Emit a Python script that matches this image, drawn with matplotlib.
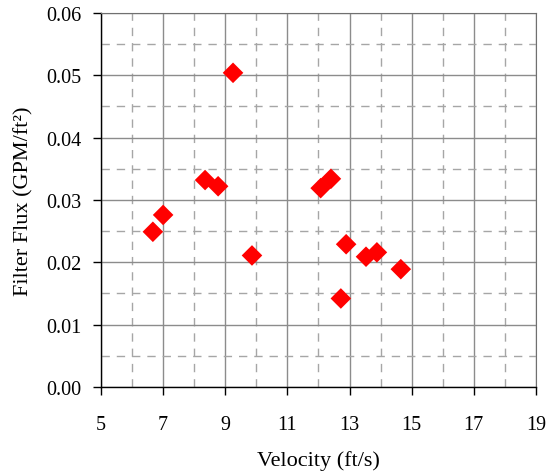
import matplotlib
matplotlib.use('Agg')
import matplotlib.pyplot as plt
from matplotlib.ticker import FixedLocator, MultipleLocator

plt.rcParams['font.family'] = ['Liberation Serif', 'DejaVu Serif']

# velocity vs. filter flux measurements
velocity = [6.67, 7.0, 8.35, 8.77, 9.25, 9.86, 12.07, 12.4, 12.89, 12.72, 13.53, 13.88, 14.65]
flux = [0.0249, 0.0276, 0.0332, 0.0322, 0.0504, 0.0211, 0.0319, 0.0334, 0.0229, 0.0142, 0.0209, 0.0216, 0.0189]
x_ticks = [5, 7, 9, 11, 13, 15, 17, 19]

fig = plt.figure(figsize=(5.5, 4.77), dpi=100)
ax = fig.add_axes([0.1836, 0.1866, 0.7909, 0.7841])

ax.set_xlim(5, 19)
ax.set_ylim(0, 0.06)
ax.xaxis.set_major_locator(FixedLocator(x_ticks))
ax.xaxis.set_minor_locator(FixedLocator([t + 1 for t in x_ticks[:-1]]))
ax.yaxis.set_major_locator(MultipleLocator(0.01))
ax.yaxis.set_minor_locator(MultipleLocator(0.005))
ax.yaxis.set_major_formatter(plt.FormatStrFormatter('%.2f'))

ax.grid(which='major', color='#8c8c8c', linewidth=1.0, linestyle='-')
ax.grid(which='minor', color='#a6a6a6', linewidth=1.0, linestyle=(0, (6, 5)))
ax.set_axisbelow(True)

ax.scatter(velocity, flux, marker='D', s=110, color='#ff0000', edgecolors='none', zorder=3)

for side in ['top', 'right']:
    ax.spines[side].set_color('#707070')
for side in ['left', 'bottom']:
    ax.spines[side].set_color('black')
    ax.spines[side].set_linewidth(1.0)

ax.tick_params(which='major', direction='out', length=6, width=1.0, labelsize=14.5, colors='black')
ax.tick_params(which='minor', length=0)
ax.tick_params(axis='x', pad=14)
ax.tick_params(axis='y', pad=8)

ax.set_xlabel('Velocity (ft/s)', fontsize=16, labelpad=12)
ax.set_ylabel('Filter Flux (GPM/ft\u00b2)', fontsize=16, labelpad=9)

fig.savefig('out.png', dpi=100)
